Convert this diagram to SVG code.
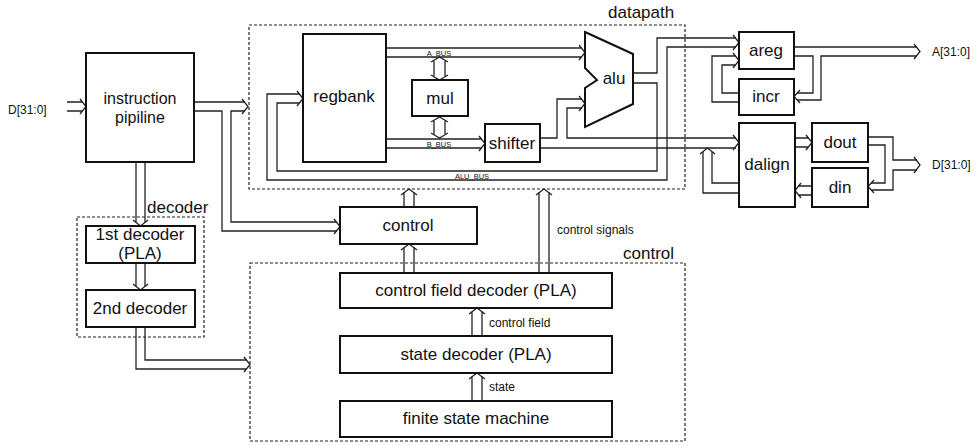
<svg xmlns="http://www.w3.org/2000/svg" width="976" height="445" viewBox="0 0 976 445">
<style>
.box{fill:none;stroke:#111;stroke-width:2}
.bus{fill:none;stroke:#222;stroke-width:1.3;stroke-linejoin:miter}
.dash{fill:none;stroke:#222;stroke-width:1.2;stroke-dasharray:3 2}
.t{font-family:"Liberation Sans",Arial,sans-serif;font-size:17px;fill:#111;text-anchor:middle}
.l{font-family:"Liberation Sans",Arial,sans-serif;font-size:17px;fill:#111}
.s{font-family:"Liberation Sans",Arial,sans-serif;font-size:12px;fill:#111}
.xs{font-family:"Liberation Sans",Arial,sans-serif;font-size:7.5px;fill:#111;text-anchor:middle}
</style>
<rect width="976" height="445" fill="#fff"/>

<g id="groups">
  <rect id="datapath-frame" class="dash" x="249" y="25" width="436" height="164"/>
  <text class="l" x="608" y="18">datapath</text>
  <rect id="decoder-frame" class="dash" x="77" y="217" width="127" height="120"/>
  <text class="l" x="147" y="213">decoder</text>
  <rect id="control-frame" class="dash" x="250" y="263" width="435" height="178"/>
  <text class="l" x="623" y="259">control</text>
</g>

<g id="connectors">
  <!-- D input -->
  <path class="bus" d="M67,102 H83 M67,111 H83 M80,99 L86,106.5 L80,114"/>
  <!-- instruction pipeline out -->
  <path class="bus" d="M194,102 H245 M194,111 H222 V231 H337 M245,111 H231 V222 H337"/>
  <path class="bus" d="M242,99 L248,106.5 L242,114 M334,219 L340,226.5 L334,234"/>
  <!-- pipeline to 1st decoder -->
  <path class="bus" d="M136,162 V223 M145,162 V223 M133,220 L140.5,226 L148,220"/>
  <!-- 1st to 2nd decoder -->
  <path class="bus" d="M136,263 V287 M145,263 V287 M133,284 L140.5,290 L148,284"/>
  <!-- 2nd decoder to control -->
  <path class="bus" d="M136,327 V369 H247 M145,327 V360 H247 M244,357 L250,364.5 L244,372"/>
  <!-- ALU bus loop -->
  <path class="bus" d="M300,94 H267 V180 H667 V47 H736 M300,103 H277 V171 H657 V83 H633 M633,73 H657 V38 H736"/>
  <path class="bus" d="M297,91 L303,98.5 L297,106 M733,35 L739,42.5 L733,50"/>
  <!-- A_BUS -->
  <path class="bus" d="M386,48 H582 M386,57 H582 M579,45 L585,52.5 L579,60"/>
  <!-- B_BUS -->
  <path class="bus" d="M386,139 H482 M386,148 H482 M479,136 L485,143.5 L479,151"/>
  <!-- shifter out -->
  <path class="bus" d="M540,138 H557 V99 H582 M582,108 H567 V138 H736 M540,148 H736"/>
  <path class="bus" d="M579,96 L585,103.5 L579,111 M733,135 L739,142.5 L733,150"/>
  <!-- mul double arrows -->
  <path class="bus" d="M434,61 V76 M445,61 V76 M431,62 L439.5,57 L448,62 M431,75 L439.5,80 L448,75"/>
  <path class="bus" d="M434,121 V134 M445,121 V134 M431,122 L439.5,117 L448,122 M431,133 L439.5,138 L448,133"/>
  <!-- dalign feedback -->
  <path class="bus" d="M739,193 H703 V152 M739,183 H712 V152 M700,154 L707.5,148 L715,154"/>
  <!-- dalign to dout -->
  <path class="bus" d="M795,138 H809 M795,147 H809 M806,135 L812,142.5 L806,150"/>
  <!-- din to dalign -->
  <path class="bus" d="M812,186 H798 M812,195 H798 M801,183 L795,190.5 L801,198"/>
  <!-- D bus -->
  <path class="bus" d="M868,137 H893 V160 H917 M868,145 H885 V183 H871 M917,170 H893 V190 H871"/>
  <path class="bus" d="M914,157 L920,165 L914,173 M874,180 L868,186.5 L874,193"/>
  <!-- areg out -->
  <path class="bus" d="M794,47 H917 M794,56 H813 V93 H797 M917,56 H821 V100 H797"/>
  <path class="bus" d="M914,44 L920,51.5 L914,59 M800,90 L794,96.5 L800,103"/>
  <!-- incr to areg -->
  <path class="bus" d="M739,93 H722 V65 H736 M739,102 H712 V56 H736 M733,53 L739,60.5 L733,68"/>
  <!-- control to datapath -->
  <path class="bus" d="M404,207 V192 M414,207 V192 M401,195 L409,189 L417,195"/>
  <!-- control field decoder to control -->
  <path class="bus" d="M404,273 V247 M414,273 V247 M401,250 L409,244 L417,250"/>
  <!-- control signals -->
  <path class="bus" d="M539,273 V192 M549,273 V192 M536,195 L544,189 L552,195"/>
  <!-- control field -->
  <path class="bus" d="M472,336 V311 M482,336 V311 M469,314 L477,308 L485,314"/>
  <!-- state -->
  <path class="bus" d="M472,401 V376 M482,401 V376 M469,379 L477,373 L485,379"/>
  <text class="xs" x="439" y="55.5">A_BUS</text>
  <text class="xs" x="439" y="146.5">B_BUS</text>
  <text class="xs" x="472" y="178.5">ALU_BUS</text>
  <text class="s" x="557" y="234">control signals</text>
  <text class="s" x="489" y="327">control field</text>
  <text class="s" x="489" y="391">state</text>
  <text class="s" x="8" y="114">D[31:0]</text>
  <text class="s" x="932" y="56">A[31:0]</text>
  <text class="s" x="932" y="169">D[31:0]</text>
</g>

<g id="instruction-pipeline"><rect class="box" x="86" y="53" width="108" height="109"/><text class="t" x="140" y="104" style="font-size:16px">instruction</text><text class="t" x="140" y="123" style="font-size:16px">pipiline</text></g>
<g id="regbank"><rect class="box" x="303" y="34" width="83" height="128"/><text class="t" x="344" y="102">regbank</text></g>
<g id="mul"><rect class="box" x="412" y="80" width="56" height="36"/><text class="t" x="440" y="104">mul</text></g>
<g id="shifter"><rect class="box" x="485" y="124" width="55" height="38"/><text class="t" x="512" y="149">shifter</text></g>
<g id="alu"><polygon class="box" points="585,32 633,54 633,104 585,127 585,88 597,80 585,68"/><text class="t" x="614" y="84">alu</text></g>
<g id="areg"><rect class="box" x="739" y="32" width="55" height="37"/><text class="t" x="766" y="56">areg</text></g>
<g id="incr"><rect class="box" x="739" y="79" width="55" height="36"/><text class="t" x="766" y="102">incr</text></g>
<g id="dalign"><rect class="box" x="739" y="123" width="56" height="84"/><text class="t" x="767" y="170">dalign</text></g>
<g id="dout"><rect class="box" x="812" y="123" width="56" height="39"/><text class="t" x="840" y="148">dout</text></g>
<g id="din"><rect class="box" x="812" y="168" width="56" height="39"/><text class="t" x="840" y="193">din</text></g>
<g id="control"><rect class="box" x="340" y="207" width="137" height="37"/><text class="t" x="408" y="231">control</text></g>
<g id="control-field-decoder"><rect class="box" x="340" y="273" width="272" height="35"/><text class="t" x="476" y="296">control field decoder (PLA)</text></g>
<g id="state-decoder"><rect class="box" x="340" y="336" width="272" height="37"/><text class="t" x="476" y="360">state decoder (PLA)</text></g>
<g id="fsm"><rect class="box" x="340" y="401" width="272" height="36"/><text class="t" x="476" y="424">finite state machine</text></g>
<g id="decoder1"><rect class="box" x="86" y="226" width="109" height="37"/><text class="t" x="140" y="240">1st decoder</text><text class="t" x="140" y="259">(PLA)</text></g>
<g id="decoder2"><rect class="box" x="86" y="290" width="109" height="37"/><text class="t" x="140" y="314">2nd decoder</text></g>
</svg>
